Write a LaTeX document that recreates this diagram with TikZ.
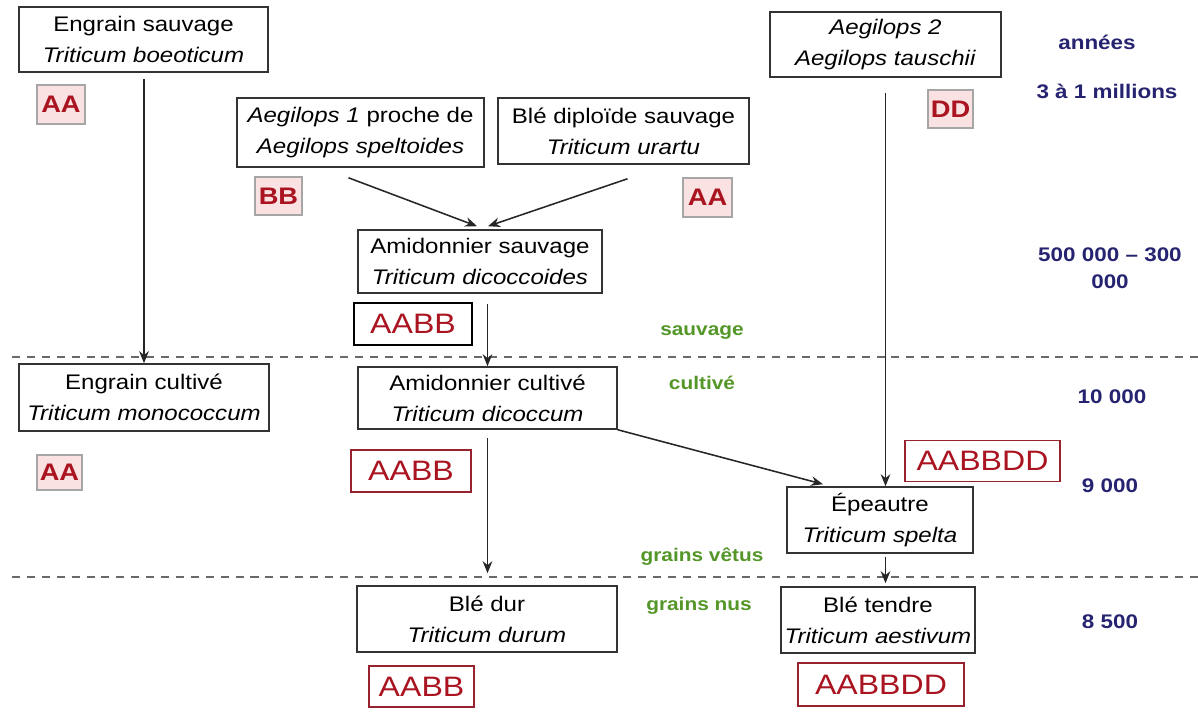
\documentclass[tikz,border=0pt]{standalone}
\usepackage{fontspec}
\setmainfont[FakeStretch=1.14]{Liberation Sans}
\usetikzlibrary{arrows.meta,calc}
\definecolor{rougeg}{RGB}{170,20,32}
\definecolor{bordrouge}{RGB}{150,35,45}
\definecolor{rose}{RGB}{250,226,226}
\definecolor{bleuan}{RGB}{38,36,112}
\definecolor{vertep}{RGB}{84,150,40}
\definecolor{tiret}{RGB}{105,105,105}
\begin{document}
\begin{tikzpicture}[x=0.025cm, y=-0.025cm,
    espece/.style={draw=black!80, line width=1.1pt, align=center, inner sep=0pt,
                   font=\fontsize{15}{22}\selectfont},
    genome/.style={draw=gray!70, fill=rose, line width=0.8pt, text=rougeg, inner sep=0pt,
                   font=\fontsize{17}{17}\selectfont\bfseries},
    grand/.style={draw=bordrouge, line width=1pt, text=rougeg, inner sep=0pt,
                  font=\fontsize{20}{20}\selectfont},
    annee/.style={text=bleuan, align=center, font=\fontsize{14}{19}\selectfont\bfseries},
    etat/.style={text=vertep, font=\fontsize{13}{13}\selectfont\bfseries},
    limite/.style={tiret, line width=1.7pt, dash pattern=on 5.7pt off 4.9pt},
    arr/.style={-{Stealth[length=3mm,width=2.4mm]}, line width=1.1pt, black!85}
]
\useasboundingbox (0,0) rectangle (1198,716);

\draw[limite] (12,357) -- (1198,357);
\draw[limite] (12,577) -- (1198,577);

\node[espece, minimum width=6.225cm, minimum height=1.625cm] (engsauv) at (143.5,39.5)
    {Engrain sauvage\\\textit{Triticum boeoticum}};
\node[espece, minimum width=6.175cm, minimum height=1.725cm] (aegil1) at (360.5,132.5)
    {\textit{Aegilops 1} proche de\\\textit{Aegilops speltoides}};
\node[espece, minimum width=6.275cm, minimum height=1.65cm] (diplo) at (623.5,131)
    {Blé diploïde sauvage\\\textit{Triticum urartu}};
\node[espece, minimum width=5.775cm, minimum height=1.625cm] (aegil2) at (885.5,44.5)
    {\textit{Aegilops 2}\\\textit{Aegilops tauschii}};
\node[espece, minimum width=6.1cm, minimum height=1.575cm] (amidsauv) at (480,261.5)
    {Amidonnier sauvage\\\textit{Triticum dicoccoides}};
\node[espece, minimum width=6.25cm, minimum height=1.675cm] (engcult) at (144,397.5)
    {Engrain cultivé\\\textit{Triticum monococcum}};
\node[espece, minimum width=6.475cm, minimum height=1.55cm] (amidcult) at (487.5,398)
    {Amidonnier cultivé\\\textit{Triticum dicoccum}};
\node[espece, minimum width=4.65cm, minimum height=1.65cm] (epeautre) at (880,520)
    {Épeautre\\\textit{Triticum spelta}};
\node[espece, minimum width=6.5cm, minimum height=1.65cm] (bledur) at (487,619)
    {Blé dur\\\textit{Triticum durum}};
\node[espece, minimum width=4.85cm, minimum height=1.65cm] (bletendre) at (878,620)
    {Blé tendre\\\textit{Triticum aestivum}};

\node[genome, minimum width=1.2cm, minimum height=0.975cm] (gaa1) at (61,104.5) {AA};
\node[genome, minimum width=1.175cm, minimum height=0.95cm] (gbb) at (278.5,196) {BB};
\node[genome, minimum width=1.225cm, minimum height=0.975cm] (gaa2) at (707.5,197.5) {AA};
\node[genome, minimum width=1.125cm, minimum height=0.95cm] (gdd) at (950.5,109) {DD};
\node[genome, minimum width=1.125cm, minimum height=0.875cm] (gaa3) at (59.5,472.5) {AA};
\node[grand, draw=black, minimum width=2.95cm, minimum height=1.05cm] (gaabb1) at (413,324) {AABB};
\node[grand, minimum width=3.0cm, minimum height=1.05cm] (gaabb2) at (411,471) {AABB};
\node[grand, minimum width=3.875cm, minimum height=1.025cm] (gaabbdd1) at (982.5,461) {AABBDD};
\node[grand, minimum width=2.625cm, minimum height=1.025cm] (gaabb3) at (421.5,686.5) {AABB};
\node[grand, minimum width=4.15cm, minimum height=1.075cm] (gaabbdd2) at (881,684.5) {AABBDD};

\node[annee] (annees) at (1097,42) {années};
\node[annee] (millions) at (1107,91) {3 à 1 millions};
\node[annee] (t500) at (1110,268) {500 000 – 300\\000};
\node[annee] (t10000) at (1112,397) {10 000};
\node[annee] (t9000) at (1110,486) {9 000};
\node[annee] (t8500) at (1110,622) {8 500};

\node[etat] (sauv) at (702,333) {sauvage};
\node[etat] (cult) at (702,383) {cultivé};
\node[etat] (vetus) at (702,557) {grains vêtus};
\node[etat] (nus) at (699,606) {grains nus};

\draw[arr] ($(engcult.north |- engsauv.south)+(0,6)$) -- (engcult.north);
\draw[arr] ($(aegil1.south)+(-12,10)$) -- ($(amidsauv.north)+(-3,-3)$);
\draw[arr] ($(diplo.south)+(4,14)$) -- ($(amidsauv.north)+(8,-3)$);
\draw[arr] ($(amidcult.north |- amidsauv.south)+(0,10)$) -- (amidcult.north);
\draw[arr] ($(amidcult.south)+(0,8)$) -- ($(amidcult.south |- bledur.north)+(0,-12)$);
\draw[arr] (amidcult.south east) -- ($(epeautre.north)+(-57,-2)$);
\draw[arr] ($(aegil2.south)+(0,15)$) -- (aegil2.south |- epeautre.north);
\draw[arr] ($(aegil2.south |- epeautre.south)+(0,3)$) -- ($(aegil2.south |- bletendre.north)+(0,-3)$);
\end{tikzpicture}
\end{document}
